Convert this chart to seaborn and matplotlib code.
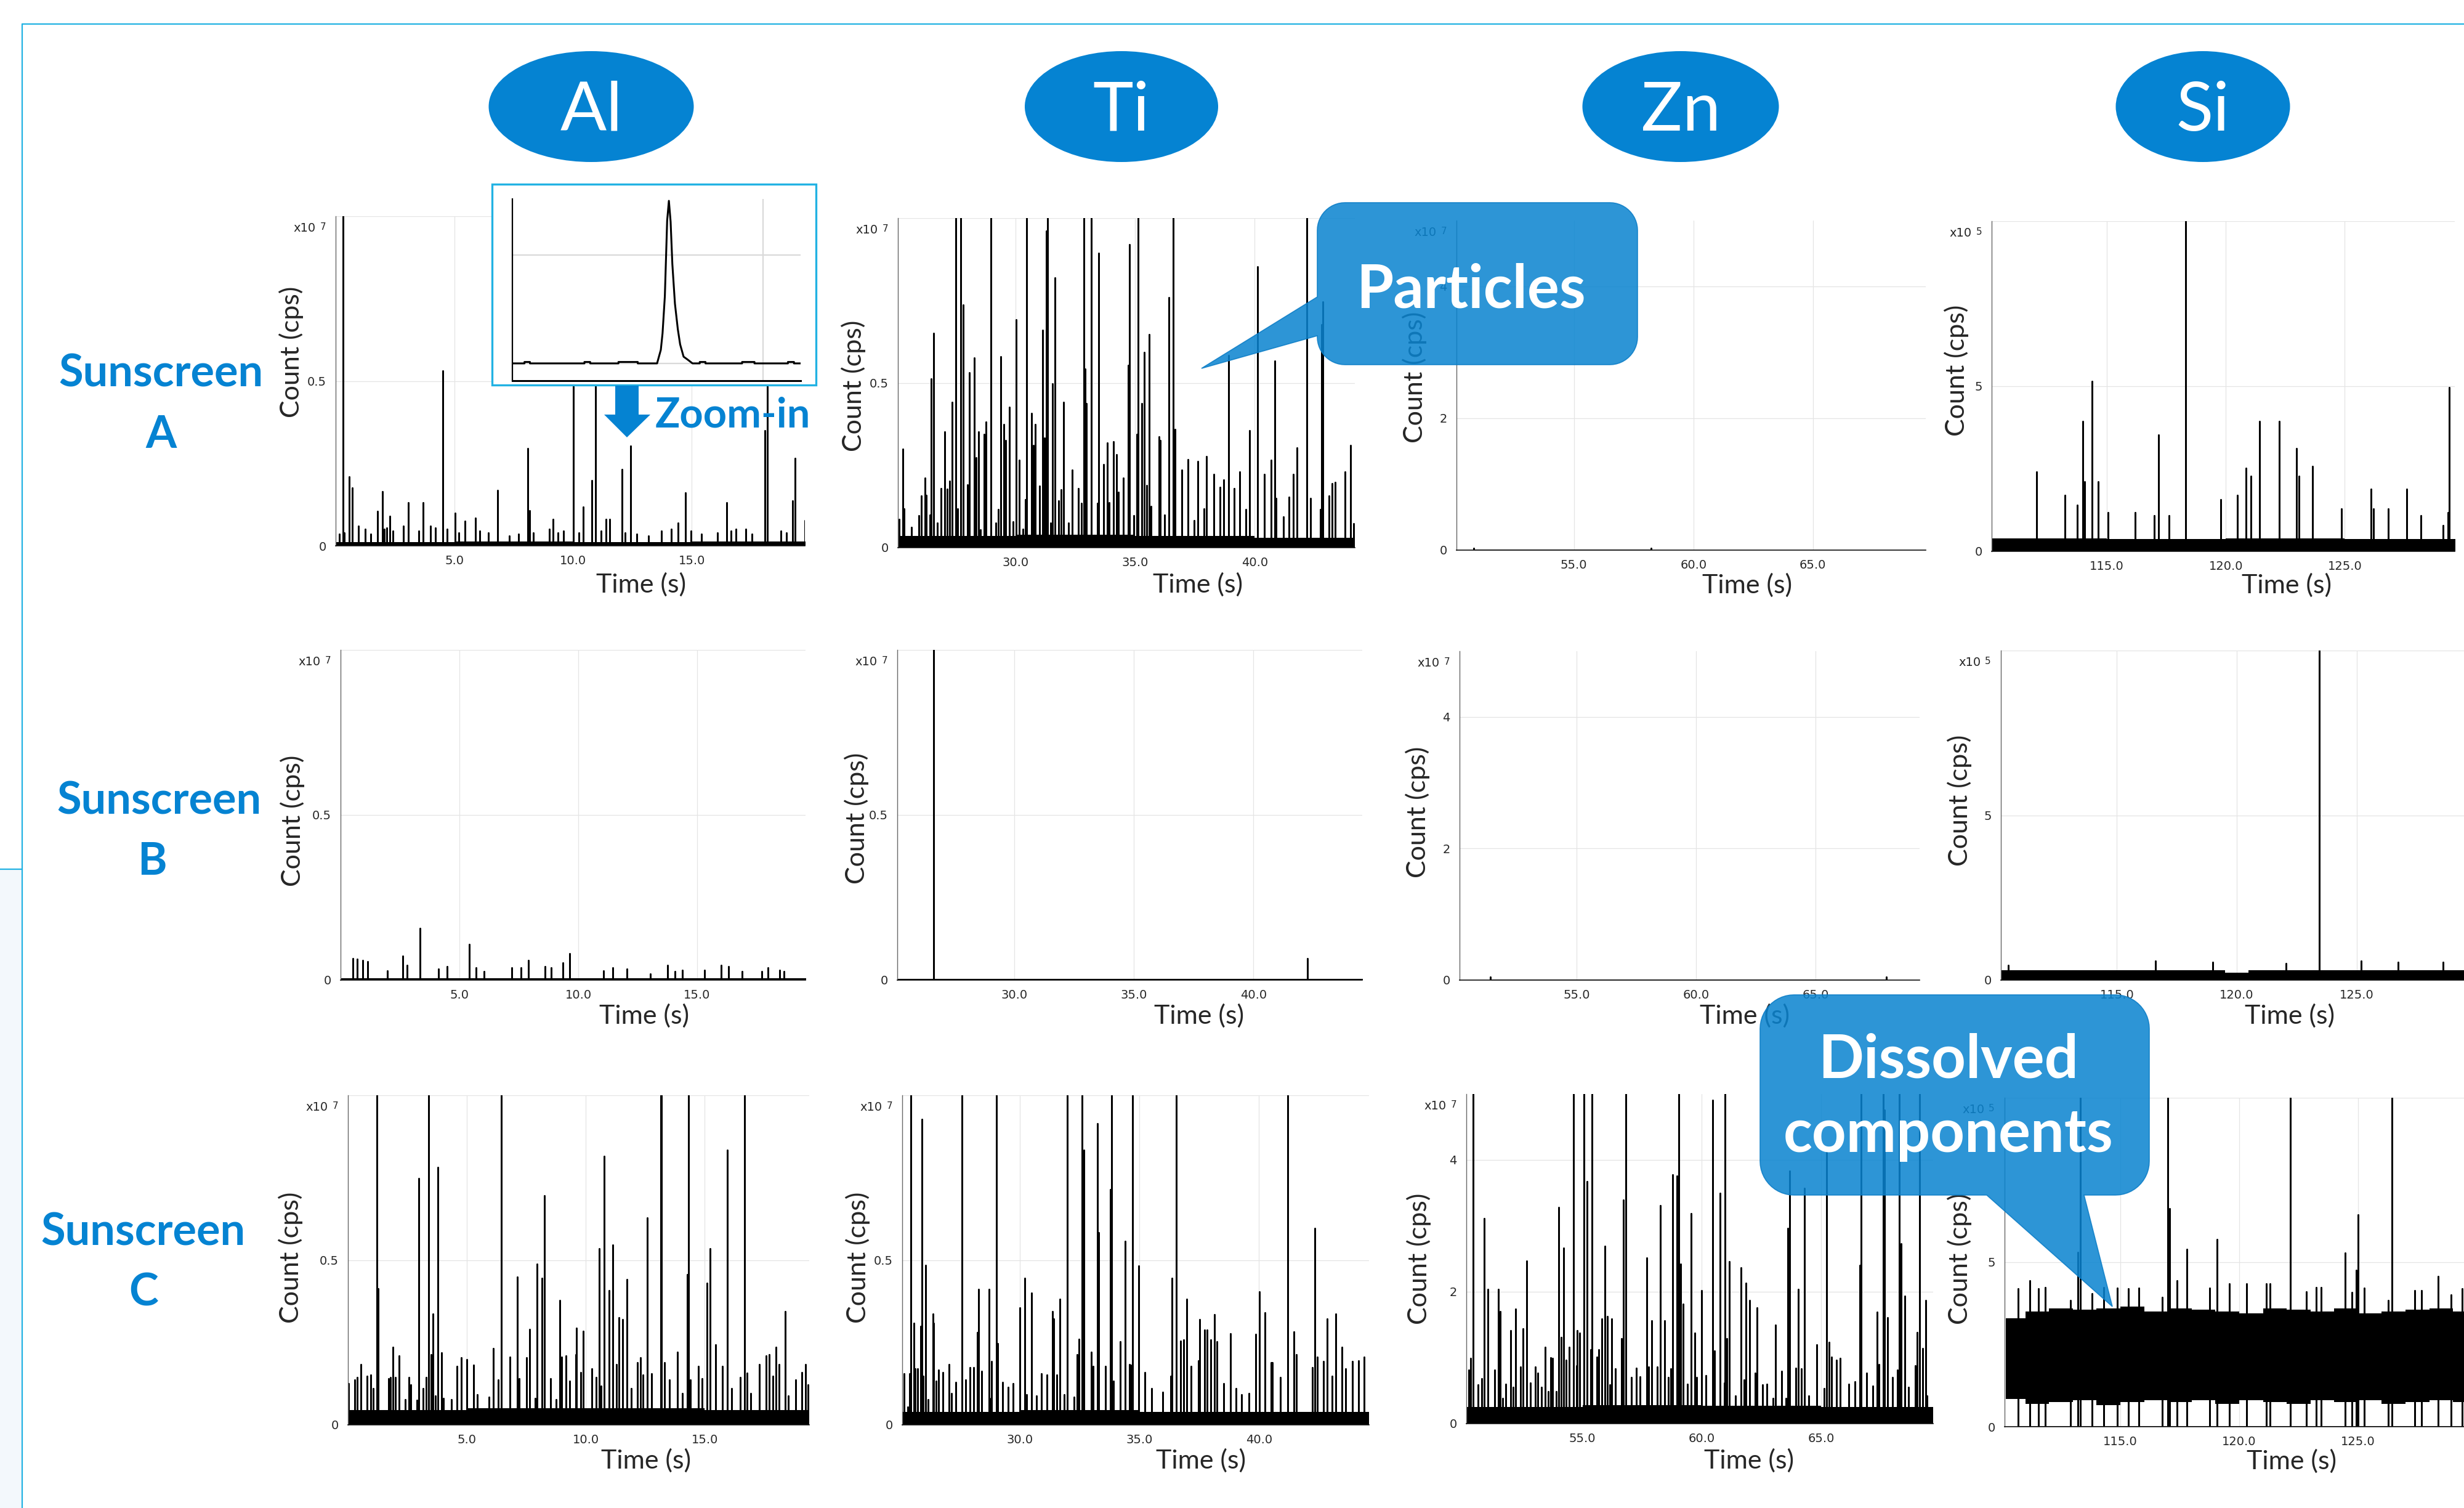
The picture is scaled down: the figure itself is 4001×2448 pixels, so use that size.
import numpy as np
import pandas as pd
import matplotlib
matplotlib.use("Agg")
import matplotlib.pyplot as plt
import seaborn as sns
from matplotlib.patches import Ellipse, Rectangle, Polygon

sns.set_style("white")
plt.rcParams["font.family"] = ["Lato", "DejaVu Sans"]

W, H = 4001, 2448
BLUE = "#0583d2"
CYAN = "#22b2e3"
NARROW = ["Liberation Sans Narrow", "DejaVu Sans"]

# ---------------- data: (time s, count) spikes ----------------
# Al / Ti / Zn counts in x10^7 cps, Si counts in x10^5 cps
AL_A = [(0.16, 0.035), (0.30, 1.2), (0.37, 0.04), (0.58, 0.209), (0.71, 0.175), (0.97, 0.06),
        (1.24, 0.05), (1.49, 0.035), (1.77, 0.104), (1.98, 0.165), (2.04, 0.05), (2.16, 0.055),
        (2.28, 0.089), (2.40, 0.045), (2.86, 0.06), (3.07, 0.13), (3.50, 0.045), (3.69, 0.13),
        (3.99, 0.06), (4.21, 0.055), (4.52, 0.53), (4.69, 0.05), (5.04, 0.10), (5.18, 0.04),
        (5.45, 0.075), (5.88, 0.085), (6.06, 0.045), (6.43, 0.04), (6.83, 0.169), (7.32, 0.03),
        (7.71, 0.035), (8.08, 0.296), (8.18, 0.106), (8.33, 0.04), (9.00, 0.05), (9.15, 0.081),
        (9.35, 0.04), (9.60, 0.045), (10.00, 0.75), (10.24, 0.04), (10.42, 0.117), (10.79, 0.198),
        (10.94, 0.8), (11.18, 0.045), (11.38, 0.08), (11.53, 0.08), (12.05, 0.231), (12.20, 0.04),
        (12.41, 0.302), (12.68, 0.035), (13.17, 0.03), (13.73, 0.045), (14.14, 0.05), (14.43, 0.07),
        (14.73, 0.16), (14.96, 0.045), (15.40, 0.035), (16.07, 0.04), (16.47, 0.13), (16.64, 0.045),
        (16.86, 0.05), (17.26, 0.05), (17.54, 0.035), (18.08, 0.35), (18.17, 0.8), (18.75, 0.045),
        (18.97, 0.04), (19.24, 0.137), (19.35, 0.265), (19.75, 0.077)]

TI_A = [(25.11, 0.086), (25.28, 0.30), (25.32, 0.118), (25.64, 0.061), (25.95, 0.097), (26.05, 0.157),
        (26.20, 0.211), (26.26, 0.159), (26.41, 0.10), (26.47, 0.512), (26.56, 0.651), (26.72, 0.075),
        (26.87, 0.179), (27.04, 0.352), (27.14, 0.178), (27.23, 0.202), (27.35, 0.442), (27.50, 1.2),
        (27.57, 0.118), (27.70, 1.2), (27.81, 0.736), (27.97, 0.191), (28.06, 0.531), (28.27, 0.576),
        (28.34, 0.272), (28.44, 0.352), (28.53, 0.055), (28.69, 0.344), (28.76, 0.381), (28.97, 1.2),
        (29.16, 0.075), (29.27, 0.116), (29.37, 0.58), (29.50, 0.374), (29.58, 0.326), (29.73, 0.426),
        (29.89, 0.079), (30.03, 0.692), (30.15, 0.265), (30.31, 0.056), (30.41, 0.145), (30.45, 1.2),
        (30.67, 0.408), (30.74, 0.311), (30.82, 0.374), (30.99, 0.186), (31.13, 0.659), (31.19, 0.333),
        (31.28, 0.96), (31.34, 1.2), (31.45, 0.075), (31.55, 0.497), (31.65, 0.819), (31.80, 0.142),
        (31.91, 0.175), (32.01, 0.442), (32.22, 0.074), (32.37, 0.236), (32.63, 0.179), (32.74, 0.135),
        (32.84, 1.2), (32.91, 0.542), (32.95, 0.437), (33.16, 1.2), (33.42, 0.135), (33.48, 0.893),
        (33.67, 0.252), (33.84, 0.318), (33.92, 0.137), (34.08, 0.322), (34.22, 0.283), (34.30, 0.168),
        (34.50, 0.211), (34.71, 0.553), (34.75, 0.92), (34.93, 0.097), (35.07, 0.344), (35.13, 1.2),
        (35.28, 0.438), (35.38, 0.592), (35.49, 0.188), (35.59, 0.646), (35.67, 0.125), (36.00, 0.336),
        (36.05, 0.326), (36.23, 0.10), (36.42, 0.759), (36.58, 1.2), (36.63, 0.132), (36.67, 0.359),
        (36.96, 0.235), (37.21, 0.268), (37.47, 0.082), (37.61, 0.261), (37.88, 0.118), (37.97, 0.276),
        (38.28, 0.223), (38.55, 0.183), (38.70, 0.205), (38.91, 0.583), (39.15, 0.179), (39.37, 0.229),
        (39.64, 0.115), (39.78, 0.356), (40.11, 0.853), (40.41, 0.223), (40.68, 0.265), (40.84, 0.566),
        (40.89, 0.15), (41.20, 0.093), (41.42, 0.154), (41.61, 0.223), (41.76, 0.303), (42.18, 1.2),
        (42.33, 0.15), (42.74, 0.115), (42.79, 0.676), (42.85, 0.745), (43.10, 0.157), (43.23, 0.195),
        (43.37, 0.198), (43.77, 0.229), (44.00, 0.311), (44.15, 0.072)]

ZN_A = [(50.80, 0.03), (58.24, 0.03)]

SI_A = [(112.04, 2.4), (113.23, 1.69), (113.76, 1.4), (114.00, 3.93), (114.06, 2.11), (114.38, 5.15),
        (114.63, 2.11), (115.06, 1.17), (116.19, 1.17), (116.98, 1.08), (117.18, 3.53), (117.60, 1.08),
        (118.30, 10.5), (119.78, 1.57), (120.48, 1.69), (120.84, 2.51), (121.05, 2.28), (121.42, 3.93),
        (122.25, 3.93), (122.98, 3.11), (123.08, 2.28), (123.65, 2.58), (124.85, 1.28), (126.10, 1.88),
        (126.21, 1.28), (126.83, 1.28), (127.61, 1.88), (128.20, 1.08), (129.13, 0.79), (129.33, 1.17),
        (129.38, 4.97)]

AL_B = [(0.51, 0.066), (0.71, 0.063), (0.92, 0.06), (1.13, 0.056), (1.96, 0.028), (2.62, 0.072),
        (2.80, 0.044), (3.33, 0.156), (4.11, 0.033), (4.49, 0.041), (5.42, 0.108), (5.71, 0.037),
        (6.04, 0.026), (7.20, 0.037), (7.59, 0.037), (7.89, 0.059), (8.60, 0.041), (8.87, 0.037),
        (9.35, 0.052), (9.64, 0.081), (11.07, 0.028), (11.46, 0.037), (12.05, 0.033), (13.04, 0.018),
        (13.75, 0.044), (14.08, 0.026), (14.38, 0.03), (15.30, 0.03), (16.01, 0.044), (16.31, 0.041),
        (16.90, 0.026), (17.71, 0.026), (17.98, 0.037), (18.48, 0.03), (18.66, 0.026)]

TI_B = [(26.60, 1.2), (42.25, 0.065)]

ZN_B = [(51.37, 0.05), (67.97, 0.05)]

SI_B = [(110.46, 0.45), (116.62, 0.58), (118.99, 0.55), (122.05, 0.5), (123.44, 11.0), (125.20, 0.58),
        (126.73, 0.55), (128.61, 0.55)]

AL_C = [(0.03, 0.125), (0.28, 0.136), (0.39, 0.144), (0.54, 0.184), (0.80, 0.147), (0.97, 0.151),
        (1.06, 0.111), (1.22, 1.2), (1.27, 0.413), (1.70, 0.14), (1.79, 0.144), (1.90, 0.236),
        (2.00, 0.144), (2.16, 0.21), (2.41, 0.077), (2.56, 0.144), (2.63, 0.122), (2.89, 0.074),
        (2.99, 0.747), (3.17, 0.111), (3.29, 0.144), (3.38, 1.2), (3.50, 0.214), (3.57, 0.337),
        (3.68, 0.088), (3.78, 0.782), (3.94, 0.218), (4.02, 0.081), (4.36, 0.077), (4.57, 0.177),
        (4.76, 0.203), (5.00, 0.199), (5.28, 0.181), (5.43, 0.092), (5.94, 0.085), (6.12, 0.232),
        (6.32, 0.136), (6.44, 1.2), (6.80, 0.206), (7.11, 0.448), (7.20, 0.14), (7.50, 0.203),
        (7.63, 0.289), (7.87, 0.081), (7.96, 0.487), (8.15, 0.445), (8.27, 0.695), (8.53, 0.14),
        (8.74, 0.077), (8.90, 0.378), (8.99, 0.206), (9.17, 0.21), (9.33, 0.133), (9.57, 0.214),
        (9.61, 0.293), (9.79, 0.159), (9.88, 0.285), (10.25, 0.17), (10.44, 0.144), (10.55, 0.535),
        (10.65, 0.118), (10.77, 0.815), (10.98, 0.408), (11.13, 0.546), (11.28, 0.184), (11.38, 0.326),
        (11.55, 0.319), (11.73, 0.441), (11.92, 0.111), (12.17, 0.188), (12.29, 0.203), (12.41, 0.151),
        (12.59, 0.628), (12.77, 0.155), (13.14, 1.2), (13.18, 1.2), (13.30, 0.188), (13.52, 0.136),
        (13.85, 0.221), (14.06, 0.096), (14.26, 0.457), (14.32, 1.2), (14.40, 0.136), (14.73, 0.177),
        (14.88, 0.14), (15.10, 0.43), (15.21, 0.535), (15.46, 0.243), (15.74, 0.177), (15.94, 0.833),
        (16.13, 0.111), (16.49, 0.144), (16.68, 1.2), (16.77, 0.157), (16.93, 0.096), (17.29, 0.184),
        (17.59, 0.21), (17.72, 0.214), (17.85, 0.147), (17.98, 0.236), (18.13, 0.184), (18.39, 0.344),
        (18.51, 0.088), (18.81, 0.136), (19.08, 0.159), (19.23, 0.184), (19.33, 0.122)]

TI_C = [(25.18, 0.155), (25.32, 0.055), (25.39, 0.155), (25.44, 1.2), (25.58, 0.308), (25.64, 0.17),
        (25.73, 0.17), (25.85, 0.30), (25.91, 0.927), (25.97, 0.147), (26.06, 0.485), (26.17, 0.077),
        (26.38, 0.337), (26.41, 0.308), (26.50, 0.133), (26.60, 0.166), (26.79, 0.159), (27.05, 0.184),
        (27.15, 0.096), (27.34, 0.129), (27.58, 1.2), (27.74, 0.136), (27.93, 0.173), (28.08, 0.173),
        (28.23, 0.28), (28.29, 0.411), (28.40, 0.162), (28.71, 0.411), (28.80, 0.081), (28.83, 0.192),
        (29.03, 1.2), (29.07, 0.247), (29.29, 0.129), (29.51, 0.114), (29.73, 0.125), (30.00, 0.355),
        (30.21, 0.445), (30.30, 0.092), (30.49, 0.40), (30.69, 0.088), (30.90, 0.155), (31.14, 0.151),
        (31.37, 0.344), (31.43, 0.322), (31.55, 0.151), (31.67, 0.381), (31.86, 0.092), (31.98, 1.2),
        (32.27, 0.085), (32.39, 0.214), (32.47, 0.26), (32.60, 1.2), (32.69, 0.833), (32.98, 0.221),
        (33.06, 0.177), (33.26, 0.914), (33.31, 0.583), (33.59, 0.177), (33.80, 0.714), (33.84, 1.2),
        (33.91, 0.133), (34.20, 0.252), (34.40, 0.557), (34.58, 0.184), (34.65, 0.181), (34.71, 1.2),
        (34.98, 0.482), (35.22, 0.159), (35.52, 0.111), (35.99, 0.10), (36.31, 0.147), (36.37, 0.445),
        (36.54, 1.2), (36.72, 0.254), (36.84, 0.258), (36.99, 0.381), (37.15, 0.177), (37.46, 0.195),
        (37.53, 0.319), (37.74, 0.288), (37.83, 0.288), (37.98, 0.258), (38.15, 0.334), (38.23, 0.252),
        (38.52, 0.125), (38.80, 0.277), (39.04, 0.111), (39.26, 0.092), (39.59, 0.096), (39.87, 0.274),
        (40.01, 0.404), (40.25, 0.341), (40.52, 0.188), (40.55, 0.188), (40.89, 0.144), (41.20, 1.2),
        (41.46, 0.282), (41.55, 0.214), (42.22, 0.173), (42.33, 0.597), (42.44, 0.206), (42.69, 0.192),
        (42.85, 0.322), (43.06, 0.147), (43.21, 0.337), (43.47, 0.236), (43.62, 0.17), (43.91, 0.192),
        (44.17, 0.195), (44.39, 0.206)]

ZN_C = [(50.23, 0.81), (50.32, 0.99), (50.42, 6.0), (50.63, 0.59), (50.78, 0.68), (50.88, 3.11),
        (51.04, 2.04), (51.31, 0.81), (51.46, 2.04), (51.56, 1.70), (51.64, 0.38), (51.79, 0.60),
        (51.99, 1.41), (52.08, 0.55), (52.20, 1.74), (52.41, 0.86), (52.50, 1.44), (52.66, 2.47),
        (52.82, 0.62), (53.03, 0.86), (53.13, 0.77), (53.27, 0.55), (53.44, 1.16), (53.56, 0.49),
        (53.67, 1.00), (53.74, 0.99), (53.90, 0.49), (54.01, 3.28), (54.11, 1.31), (54.21, 2.66),
        (54.30, 0.96), (54.45, 1.16), (54.63, 6.0), (54.76, 0.88), (54.78, 1.41), (54.88, 1.37),
        (55.07, 6.0), (55.19, 3.67), (55.34, 1.12), (55.40, 6.0), (55.59, 1.01), (55.67, 1.12),
        (55.81, 1.59), (55.93, 2.69), (56.04, 1.63), (56.13, 0.59), (56.23, 1.59), (56.38, 0.83),
        (56.64, 1.29), (56.72, 3.39), (56.82, 6.0), (57.04, 0.70), (57.25, 0.84), (57.41, 0.71),
        (57.70, 2.51), (57.77, 0.86), (57.90, 1.56), (58.14, 0.86), (58.27, 3.31), (58.44, 1.56),
        (58.60, 0.70), (58.69, 0.83), (58.78, 3.78), (58.95, 3.76), (59.04, 6.0), (59.12, 2.42),
        (59.21, 1.81), (59.39, 0.60), (59.56, 3.19), (59.70, 1.37), (59.79, 0.70), (59.99, 2.02),
        (60.17, 0.73), (60.45, 4.91), (60.53, 1.10), (60.76, 3.50), (60.93, 0.62), (60.97, 6.0),
        (61.04, 1.29), (61.16, 2.46), (61.41, 0.42), (61.65, 2.36), (61.76, 0.66), (61.84, 2.13),
        (62.01, 1.87), (62.23, 0.77), (62.32, 1.76), (62.54, 0.59), (62.72, 0.60), (62.99, 0.38),
        (63.09, 1.50), (63.34, 0.79), (63.52, 0.38), (63.59, 2.96), (63.68, 3.83), (63.93, 0.84),
        (64.04, 2.04), (64.16, 0.83), (64.30, 3.57), (64.47, 0.42), (64.81, 1.20), (65.12, 0.53),
        (65.22, 4.2), (65.34, 1.23), (65.44, 1.01), (65.64, 0.96), (65.79, 0.99), (66.16, 0.60),
        (66.40, 0.64), (66.63, 2.40), (66.67, 6.0), (66.90, 0.77), (67.16, 0.57), (67.34, 1.69),
        (67.43, 0.90), (67.60, 6.0), (67.65, 4.76), (67.79, 1.61), (67.98, 0.70), (68.19, 0.81),
        (68.28, 6.0), (68.34, 2.73), (68.50, 1.93), (68.67, 0.55), (68.93, 0.88), (69.01, 1.38),
        (69.12, 6.0), (69.24, 1.14), (69.39, 1.87), (69.44, 0.42)]

SI_C = [(110.70, 4.19), (111.20, 4.44), (111.55, 4.19), (111.83, 4.24), (112.89, 3.83), (113.21, 5.3),
        (113.31, 11.0), (113.80, 4.04), (114.30, 4.24), (114.86, 4.21), (115.35, 4.19), (115.77, 4.21),
        (116.76, 3.94), (116.99, 11.0), (117.07, 6.62), (117.39, 4.44), (117.80, 5.4), (118.77, 4.21),
        (119.06, 5.69), (119.58, 4.34), (120.31, 4.34), (121.13, 4.34), (121.31, 4.34), (122.14, 11.0),
        (122.82, 4.11), (123.24, 4.24), (123.45, 4.24), (124.45, 5.28), (124.75, 4.09), (124.92, 4.75),
        (125.01, 6.44), (125.25, 4.21), (126.27, 3.83), (126.44, 11.0), (127.39, 4.14), (127.68, 4.14),
        (128.38, 4.56), (128.92, 4.01), (129.37, 4.19)]

# dense background signal level (time knots, lower, upper)
AL_A_BAND = ([0, 5, 10, 15, 19.8], [0] * 5, [0.012, 0.014, 0.012, 0.013, 0.013])
TI_A_BAND = ([25, 30, 35, 40, 44.2], [0] * 5, [0.035, 0.04, 0.035, 0.03, 0.03])
ZN_A_BAND = ([50, 69.8], [0, 0], [0.002, 0.002])
SI_A_BAND = ([110, 115, 120, 125, 129.7], [0] * 5, [0.40, 0.38, 0.40, 0.38, 0.38])
AL_B_BAND = ([0, 19.6], [0, 0], [0.005, 0.005])
TI_B_BAND = ([25, 44.6], [0, 0], [0.003, 0.003])
ZN_B_BAND = ([50, 69.4], [0, 0], [0.002, 0.002])
SI_B_BAND = ([110, 115, 119.5, 120.5, 125, 129.5], [0] * 6, [0.30, 0.30, 0.22, 0.30, 0.30, 0.30])
AL_C_BAND = ([0, 5, 10, 15, 19.4], [0] * 5, [0.045, 0.05, 0.05, 0.045, 0.045])
TI_C_BAND = ([25, 30, 35, 40, 44.6], [0] * 5, [0.04, 0.045, 0.04, 0.04, 0.045])
ZN_C_BAND = ([50, 55, 60, 65, 69.7], [0] * 5, [0.25, 0.28, 0.27, 0.25, 0.25])
SI_C_BAND = ([110.17, 111, 112, 113, 114, 115, 116, 117, 118, 119, 120, 121, 122, 123, 124, 125,
              126, 127, 128, 129, 129.5],
             [0.85, 0.70, 0.75, 0.80, 0.65, 0.75, 0.80, 0.75, 0.80, 0.70, 0.80, 0.75, 0.70, 0.80,
              0.75, 0.80, 0.70, 0.75, 0.80, 0.75, 0.75],
             [3.30, 3.50, 3.60, 3.55, 3.60, 3.65, 3.50, 3.60, 3.55, 3.50, 3.45, 3.60, 3.55, 3.50,
              3.60, 3.45, 3.50, 3.55, 3.60, 3.50, 3.50])

# zoom-in of one particle event (relative time, relative count)
INSET_X = [0.0, 0.042, 0.042, 0.061, 0.061, 0.25, 0.25, 0.27, 0.27, 0.368, 0.368, 0.435, 0.435,
           0.502, 0.515, 0.521, 0.529, 0.533, 0.537, 0.543, 0.549, 0.555, 0.564, 0.574, 0.582,
           0.594, 0.607, 0.625, 0.65, 0.65, 0.67, 0.67, 0.797, 0.797, 0.84, 0.84, 0.956, 0.956,
           0.977, 0.977, 1.0]
INSET_Y = [0, 0, 0.013, 0.013, 0, 0, 0.013, 0.013, 0, 0, 0.013, 0.013, 0,
           0, 0.125, 0.278, 0.621, 0.97, 1.32, 1.503, 1.31, 0.919, 0.552, 0.316, 0.176,
           0.062, 0.037, 0, 0, 0.013, 0.013, 0, 0, 0.013, 0.013, 0, 0, 0.013,
           0.013, 0, 0]

ELEMENTS = ["Al", "Ti", "Zn", "Si"]
SAMPLES = ["A", "B", "C"]

fig = plt.figure(figsize=(W / 100, H / 100), dpi=100)
fig.patch.set_facecolor("white")


def px_box(l, t, r, b):
    return [l / W, 1 - b / H, (r - l) / W, (b - t) / H]


def panel(box, spikes, band, xlim, ymax, yticks, ylabels, xticks, exp, xlab, ylab):
    ax = fig.add_axes(px_box(*box), zorder=1)
    ax.set_axisbelow(True)
    t, h = zip(*sorted(spikes))
    h = np.asarray(h)
    df = pd.DataFrame({"t": np.repeat(t, 3),
                       "y": np.column_stack([np.zeros_like(h), h, np.zeros_like(h)]).ravel()})
    sns.lineplot(data=df, x="t", y="y", sort=False, estimator=None, color="black",
                 lw=1.9, ax=ax)
    bt, blo, bhi = band
    ax.fill_between(bt, blo, bhi, step="post", color="black", lw=0)
    ax.set_xlim(*xlim)
    ax.set_ylim(0, ymax)
    ax.set_xticks(xticks)
    ax.set_xticklabels([f"{v:.1f}" for v in xticks])
    ax.set_yticks(yticks)
    ax.set_yticklabels(ylabels)
    ax.set_xlabel("")
    ax.set_ylabel("")
    ax.grid(True, color="#e4e4e4", lw=0.9)
    for s in ["top", "right"]:
        ax.spines[s].set_visible(False)
    ax.spines["left"].set_color("#666666")
    ax.spines["left"].set_linewidth(1.0)
    ax.spines["bottom"].set_color("#111111")
    ax.spines["bottom"].set_linewidth(1.2)
    ax.tick_params(axis="x", length=0, pad=11, labelsize=14)
    ax.tick_params(axis="y", length=6, width=1, color="#555555", pad=5, labelsize=14)
    for lab in ax.get_xticklabels() + ax.get_yticklabels():
        lab.set_family(NARROW)
    ax.annotate("x10", xy=(0, 1), xycoords="axes fraction", xytext=(-32, -25),
                textcoords="offset pixels", ha="right", va="baseline", fontsize=14,
                family=NARROW)
    ax.annotate(exp, xy=(0, 1), xycoords="axes fraction", xytext=(-16, -10),
                textcoords="offset pixels", ha="right", va="top", fontsize=11, family=NARROW)
    ax.annotate("Time (s)", xy=(xlab[0], 0), xycoords="axes fraction", xytext=(0, -xlab[1]),
                textcoords="offset pixels", ha="center", va="center", fontsize=31)
    ax.annotate("Count (cps)", xy=(0, ylab[1]), xycoords="axes fraction", xytext=(ylab[0], 0),
                textcoords="offset pixels", ha="center", va="center", fontsize=31, rotation=90)
    return ax


AL_TICKS = [5.0, 10.0, 15.0]
TI_TICKS = [30.0, 35.0, 40.0]
ZN_TICKS = [55.0, 60.0, 65.0]
SI_TICKS = [115.0, 120.0, 125.0]
AL_Y = ([0, 0.5, 1.0], ["0", "0.5", ""])
ZN_Y = ([0, 2, 4], ["0", "2", "4"])
SI_Y = ([0, 5, 10], ["0", "5", ""])

# row A
panel((545, 351, 1307, 886), AL_A, AL_A_BAND, (0.0, 19.76), 1.0, *AL_Y, AL_TICKS, "7",
      (0.651, 63), (-72, 0.589))
panel((1458, 354, 2200, 889), TI_A, TI_A_BAND, (25.07, 44.19), 1.0, *AL_Y, TI_TICKS, "7",
      (0.656, 60), (-72, 0.49))
panel((2365, 358, 3127, 893), ZN_A, ZN_A_BAND, (50.09, 69.72), 5.0, *ZN_Y, ZN_TICKS, "7",
      (0.62, 57), (-68, 0.525))
panel((3234, 359, 3986, 895), SI_A, SI_A_BAND, (110.16, 129.62), 10.0, *SI_Y, SI_TICKS, "5",
      (0.637, 55), (-57, 0.547))
# row B
panel((553, 1055, 1308, 1591), AL_B, AL_B_BAND, (0.0, 19.56), 1.0, *AL_Y, AL_TICKS, "7",
      (0.653, 58), (-78, 0.483))
panel((1457, 1055, 2212, 1591), TI_B, TI_B_BAND, (25.09, 44.55), 1.0, *AL_Y, TI_TICKS, "7",
      (0.649, 58), (-66, 0.49))
panel((2370, 1057, 3117, 1591), ZN_B, ZN_B_BAND, (50.09, 69.36), 5.0, *ZN_Y, ZN_TICKS, "7",
      (0.62, 58), (-68, 0.51))
panel((3249, 1056, 4001, 1591), SI_B, SI_B_BAND, (110.16, 129.48), 10.0, *SI_Y, SI_TICKS, "5",
      (0.624, 58), (-67, 0.545))
# row C
panel((565, 1778, 1314, 2313), AL_C, AL_C_BAND, (0.0, 19.39), 1.0, *AL_Y, AL_TICKS, "7",
      (0.646, 58), (-93, 0.507))
panel((1465, 1778, 2223, 2313), TI_C, TI_C_BAND, (25.09, 44.6), 1.0, *AL_Y, TI_TICKS, "7",
      (0.64, 58), (-72, 0.507))
panel((2381, 1776, 3139, 2311), ZN_C, ZN_C_BAND, (50.13, 69.69), 5.0, *ZN_Y, ZN_TICKS, "7",
      (0.606, 60), (-77, 0.50))
panel((3255, 1782, 4001, 2316), SI_C, SI_C_BAND, (110.13, 129.46), 10.0, *SI_Y, SI_TICKS, "5",
      (0.625, 56), (-73, 0.51))

# ---------------- overlay: headers, labels, frame, callouts ----------------
ov = fig.add_axes([0, 0, 1, 1], zorder=5)
ov.set_xlim(0, W)
ov.set_ylim(H, 0)
ov.axis("off")
ov.patch.set_alpha(0)

# page frame
ov.add_patch(Rectangle((0, 1411), 36, H - 1411, fc="#f3f8fc", ec="none"))
ov.plot([36, W], [39, 39], color=CYAN, lw=1.6)
ov.plot([36, 36], [39, H], color=CYAN, lw=1.6)
ov.plot([0, 36], [1411, 1411], color=CYAN, lw=1.6)

# element headers
for name, cx, w in zip(ELEMENTS, [960, 1821, 2729, 3577], [333, 314, 319, 283]):
    ov.add_patch(Ellipse((cx, 173), w, 180, fc=BLUE, ec="none"))
    ov.text(cx, 212, name, ha="center", va="baseline", color="white", fontsize=80)

# sample labels
for s, cx, cx2, yb in zip(SAMPLES, [261, 258, 232], [261, 247, 233], [628, 1321, 2021]):
    ov.text(cx, yb, "Sunscreen", ha="center", va="baseline", color=BLUE, fontsize=52,
            fontweight="bold")
    ov.text(cx2, yb + 99, s, ha="center", va="baseline", color=BLUE, fontsize=52,
            fontweight="bold")

# zoom-in frame and arrow
ov.add_patch(Rectangle((799, 299), 526, 326, fc="white", ec=CYAN, lw=2.4))
ov.add_patch(Polygon([(999, 626), (1037, 626), (1037, 673), (1056, 673), (1018, 710),
                      (981, 673), (999, 673)], closed=True, fc=BLUE, ec="none"))
ov.text(1190, 694, "Zoom-in", ha="center", va="baseline", color=BLUE, fontsize=48,
        fontweight="bold")


def callout(x0, y0, x1, y1, r, pointer, side):
    pts = []

    def arc(cx, cy, a0, a1):
        for a in np.radians(np.linspace(a0, a1, 14)):
            pts.append((cx + r * np.cos(a), cy + r * np.sin(a)))

    arc(x1 - r, y0 + r, -90, 0)
    arc(x1 - r, y1 - r, 0, 90)
    if side == "bottom":
        pts.extend(pointer)
    arc(x0 + r, y1 - r, 90, 180)
    if side == "left":
        pts.extend(pointer)
    arc(x0 + r, y0 + r, 180, 270)
    ov.add_patch(Polygon(pts, closed=True, fc="#0a84d0", ec="#0a7cc6", lw=1.2, alpha=0.86))


callout(2139, 329, 2659, 592, 45, [(2139, 545), (1951, 598), (2139, 482)], "left")
ov.text(2388, 500, "Particles", ha="center", va="baseline", color="white", fontsize=70,
        fontweight="bold")
callout(2858, 1615, 3490, 1940, 55, [(3384, 1940), (3430, 2121), (3226, 1940)], "bottom")
ov.text(3164, 1750, "Dissolved", ha="center", va="baseline", color="white", fontsize=70,
        fontweight="bold")
ov.text(3164, 1870, "components", ha="center", va="baseline", color="white", fontsize=70,
        fontweight="bold")

# inset with one particle event
ins = fig.add_axes(px_box(832, 323, 1300, 618), zorder=6)
ins.set_axisbelow(True)
sns.lineplot(x=INSET_X, y=INSET_Y, sort=False, estimator=None, color="black", lw=2.2, ax=ins)
ins.set_xlim(0, 1)
ins.set_ylim(-0.16, 1.52)
ins.set_yticks([0, 1])
ins.set_xticks([0.87])
ins.set_xticklabels([])
ins.set_yticklabels([])
ins.grid(True, color="#d9d9d9", lw=1.6)
for s in ["top", "right"]:
    ins.spines[s].set_visible(False)
ins.spines["left"].set_color("black")
ins.spines["left"].set_linewidth(1.6)
ins.spines["bottom"].set_color("black")
ins.spines["bottom"].set_linewidth(2.2)
ins.tick_params(axis="y", length=7, width=1.6, color="black")
ins.tick_params(axis="x", length=0)

fig.savefig("out.png", dpi=100)
